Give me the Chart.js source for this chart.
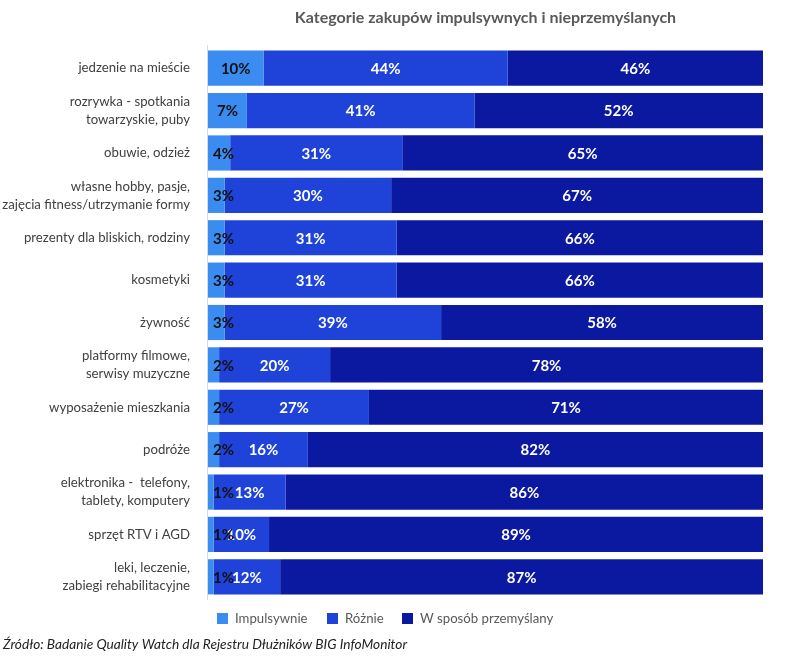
<!DOCTYPE html>
<html><head><meta charset="utf-8">
<script src="https://cdn.jsdelivr.net/npm/chart.js@4/dist/chart.umd.min.js"></script>
<style>html,body{margin:0;padding:0;background:#fff}#wrap{width:800px;height:662px;position:relative}</style>
</head><body><div id="wrap"><canvas id="c" width="800" height="662"></canvas></div>
<script>
const categories = [
  "jedzenie na mieście",
  ["rozrywka - spotkania","towarzyskie, puby"],
  "obuwie, odzież",
  ["własne hobby, pasje,","zajęcia fitness/utrzymanie formy"],
  "prezenty dla bliskich, rodziny",
  "kosmetyki",
  "żywność",
  ["platformy filmowe,","serwisy muzyczne"],
  "wyposażenie mieszkania",
  "podróże",
  ["elektronika -  telefony,","tablety, komputery"],
  "sprzęt RTV i AGD",
  ["leki, leczenie,","zabiegi rehabilitacyjne"]
];
const seriesNames = ["Impulsywnie","Różnie","W sposób przemyślany"];
const impulsywnie = [10,7,4,3,3,3,3,2,2,2,1,1,1];
const roznie      = [44,41,31,30,31,31,39,20,27,16,13,10,12];
const przemyslany = [46,52,65,67,66,66,58,78,71,82,86,89,87];
const titleText = "Kategorie zakupów impulsywnych i nieprzemyślanych";
const sourceText = "Źródło: Badanie Quality Watch dla Rejestru Dłużników BIG InfoMonitor";

const colors = ["#3a8cf0","#1f43d8","#0b18a0"];
const labelColors = ["#111111","#ffffff","#ffffff"];
const FONT = "Lato, 'Open Sans', sans-serif";

const labelsPlugin = {
  id: 'customLabels',
  afterDatasetsDraw(chart) {
    const ctx = chart.ctx;
    const area = chart.chartArea;
    ctx.save();
    ctx.font = "bold 15px " + FONT;
    ctx.textBaseline = 'middle';
    ctx.textAlign = 'left';
    const order = [1,2,0];
    order.forEach(di => {
      const meta = chart.getDatasetMeta(di);
      const ds = chart.data.datasets[di];
      ctx.fillStyle = labelColors[di];
      meta.data.forEach((el, i) => {
        const txt = ds.data[i] + "%";
        const w = ctx.measureText(txt).width;
        const cx = (el.x + el.base) / 2;
        let left = cx - w/2;
        if (left < area.left + 5) left = area.left + 5;
        ctx.fillText(txt, left, el.y + 1);
      });
    });
    // title
    ctx.font = "bold 16px " + FONT;
    ctx.fillStyle = "#595959";
    ctx.textAlign = 'center';
    ctx.fillText(titleText, (area.left + area.right)/2, 18);
    // legend
    ctx.font = "13.2px " + FONT;
    ctx.textAlign = 'left';
    const lx = [217, 327, 402];
    seriesNames.forEach((n, k) => {
      ctx.fillStyle = colors[k];
      ctx.fillRect(lx[k], 613, 11, 11);
      ctx.fillStyle = "#595959";
      ctx.fillText(n, lx[k] + 18, 619);
    });
    // source
    ctx.font = "italic 13.7px " + FONT;
    ctx.fillStyle = "#222222";
    ctx.fillText(sourceText, 3, 645);
    // axis line
    ctx.strokeStyle = "#d9d9d9";
    ctx.lineWidth = 1;
    ctx.beginPath();
    ctx.moveTo(area.left - 0.5, 45);
    ctx.lineTo(area.left - 0.5, 600);
    ctx.stroke();
    ctx.restore();
  }
};

new Chart(document.getElementById('c'), {
  type: 'bar',
  data: {
    labels: categories,
    datasets: [
      { label: seriesNames[0], data: impulsywnie, backgroundColor: colors[0] },
      { label: seriesNames[1], data: roznie, backgroundColor: colors[1] },
      { label: seriesNames[2], data: przemyslany, backgroundColor: colors[2] }
    ].map(d => Object.assign(d, { barPercentage: 0.83, categoryPercentage: 1, borderWidth: 0 }))
  },
  options: {
    indexAxis: 'y',
    responsive: false,
    animation: false,
    devicePixelRatio: 1,
    layout: { padding: { top: 47, bottom: 64, right: 37, left: 0 } },
    plugins: { legend: { display: false }, title: { display: false }, tooltip: { enabled: false } },
    scales: {
      x: { stacked: true, min: 0, max: 100, display: false },
      y: {
        stacked: true,
        grid: { display: false, drawTicks: false },
        border: { display: false },
        ticks: { color: "#404040", font: { family: FONT, size: 13.2, lineHeight: 1.36 }, padding: 18, autoSkip: false },
        afterFit(scale) { scale.width = 208; }
      }
    }
  },
  plugins: [labelsPlugin]
});
</script></body></html>
